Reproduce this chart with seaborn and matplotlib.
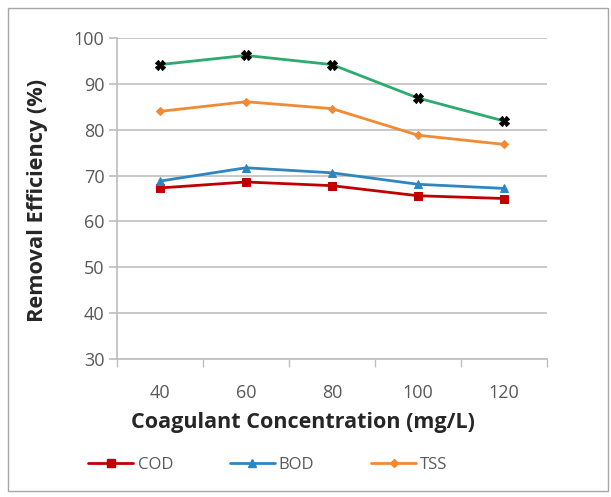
import matplotlib
matplotlib.use("Agg")
import matplotlib.pyplot as plt
import seaborn as sns
import pandas as pd
from matplotlib.patches import Rectangle
from matplotlib.lines import Line2D

concentrations = ["40", "60", "80", "100", "120"]
cod = [67.3, 68.6, 67.8, 65.6, 65.0]
bod = [68.8, 71.7, 70.6, 68.1, 67.2]
tss = [84.0, 86.1, 84.6, 78.8, 76.8]
fourth = [94.2, 96.2, 94.2, 86.9, 81.9]

sns.set_theme(style="white")
plt.rcParams["font.family"] = ["Open Sans", "DejaVu Sans"]

fig = plt.figure(figsize=(6.11, 4.97), dpi=100)
ax = fig.add_axes([117/611, 1-359/497, (547-117)/611, (359-38)/497])

pos = list(range(len(concentrations)))
series = [
    ("COD", cod, "#C00000", "s", "#C00000", 6),
    ("BOD", bod, "#2E86C1", "^", "#2E86C1", 6),
    ("TSS", tss, "#F08A34", "D", "#F08A34", 4.5),
    ("Series4", fourth, "#2DAA6E", "X", "black", 6.5),
]
for name, vals, col, mk, mcol, ms in series:
    df = pd.DataFrame({"x": pos, "y": vals})
    sns.lineplot(data=df, x="x", y="y", ax=ax, color=col, linewidth=2,
                 marker=mk, markersize=ms, markerfacecolor=mcol,
                 markeredgecolor=mcol, legend=False)

ax.set_xlim(-0.5, 4.5)
ax.set_ylim(30, 100)
ax.set_yticks(range(30, 101, 10))
ax.set_xticks(pos)
ax.set_xticklabels(concentrations)
ax.set_xticks([p - 0.5 for p in range(6)], minor=True)
ax.yaxis.grid(True, color="#BFBFBF", linewidth=1.2)
ax.xaxis.grid(False)
for s in ["top", "right"]:
    ax.spines[s].set_visible(False)
ax.spines["left"].set_color("#BFBFBF")
ax.spines["bottom"].set_color("#BFBFBF")
ax.tick_params(axis="y", which="major", left=True, length=6, color="#BFBFBF",
               labelsize=13, labelcolor="#595959", pad=3)
ax.tick_params(axis="x", which="major", bottom=False, labelsize=13,
               labelcolor="#595959", pad=12)
ax.tick_params(axis="x", which="minor", bottom=True, length=6, color="#BFBFBF")
ax.set_xlabel("Coagulant Concentration (mg/L)", fontsize=15.5, fontweight="bold",
              color="#262626")
ax.xaxis.set_label_coords((303-117)/430, -0.165)
ax.set_ylabel("Removal Efficiency (%)", fontsize=15.7, fontweight="bold",
              color="#262626")
ax.yaxis.set_label_coords((48-117)/430, (359-200)/321)

handles = [Line2D([], [], color=c, linewidth=2, marker=m, markersize=ms,
                  markerfacecolor=mc, markeredgecolor=mc)
           for _, _, c, m, mc, ms in series[:3]]
fig.legend(handles, [s[0] for s in series[:3]], loc="center",
           bbox_to_anchor=(268/611, 1-465/497), ncol=3, frameon=False,
           fontsize=12, labelcolor="#595959", handlelength=2.7,
           columnspacing=3.4, handletextpad=0.25)

fig.patches.append(Rectangle((8/611, 1-491/497), 600/611, 483/497,
                             transform=fig.transFigure, fill=False,
                             edgecolor="#A6A6A6", linewidth=1))

fig.savefig("out.png", dpi=100)
